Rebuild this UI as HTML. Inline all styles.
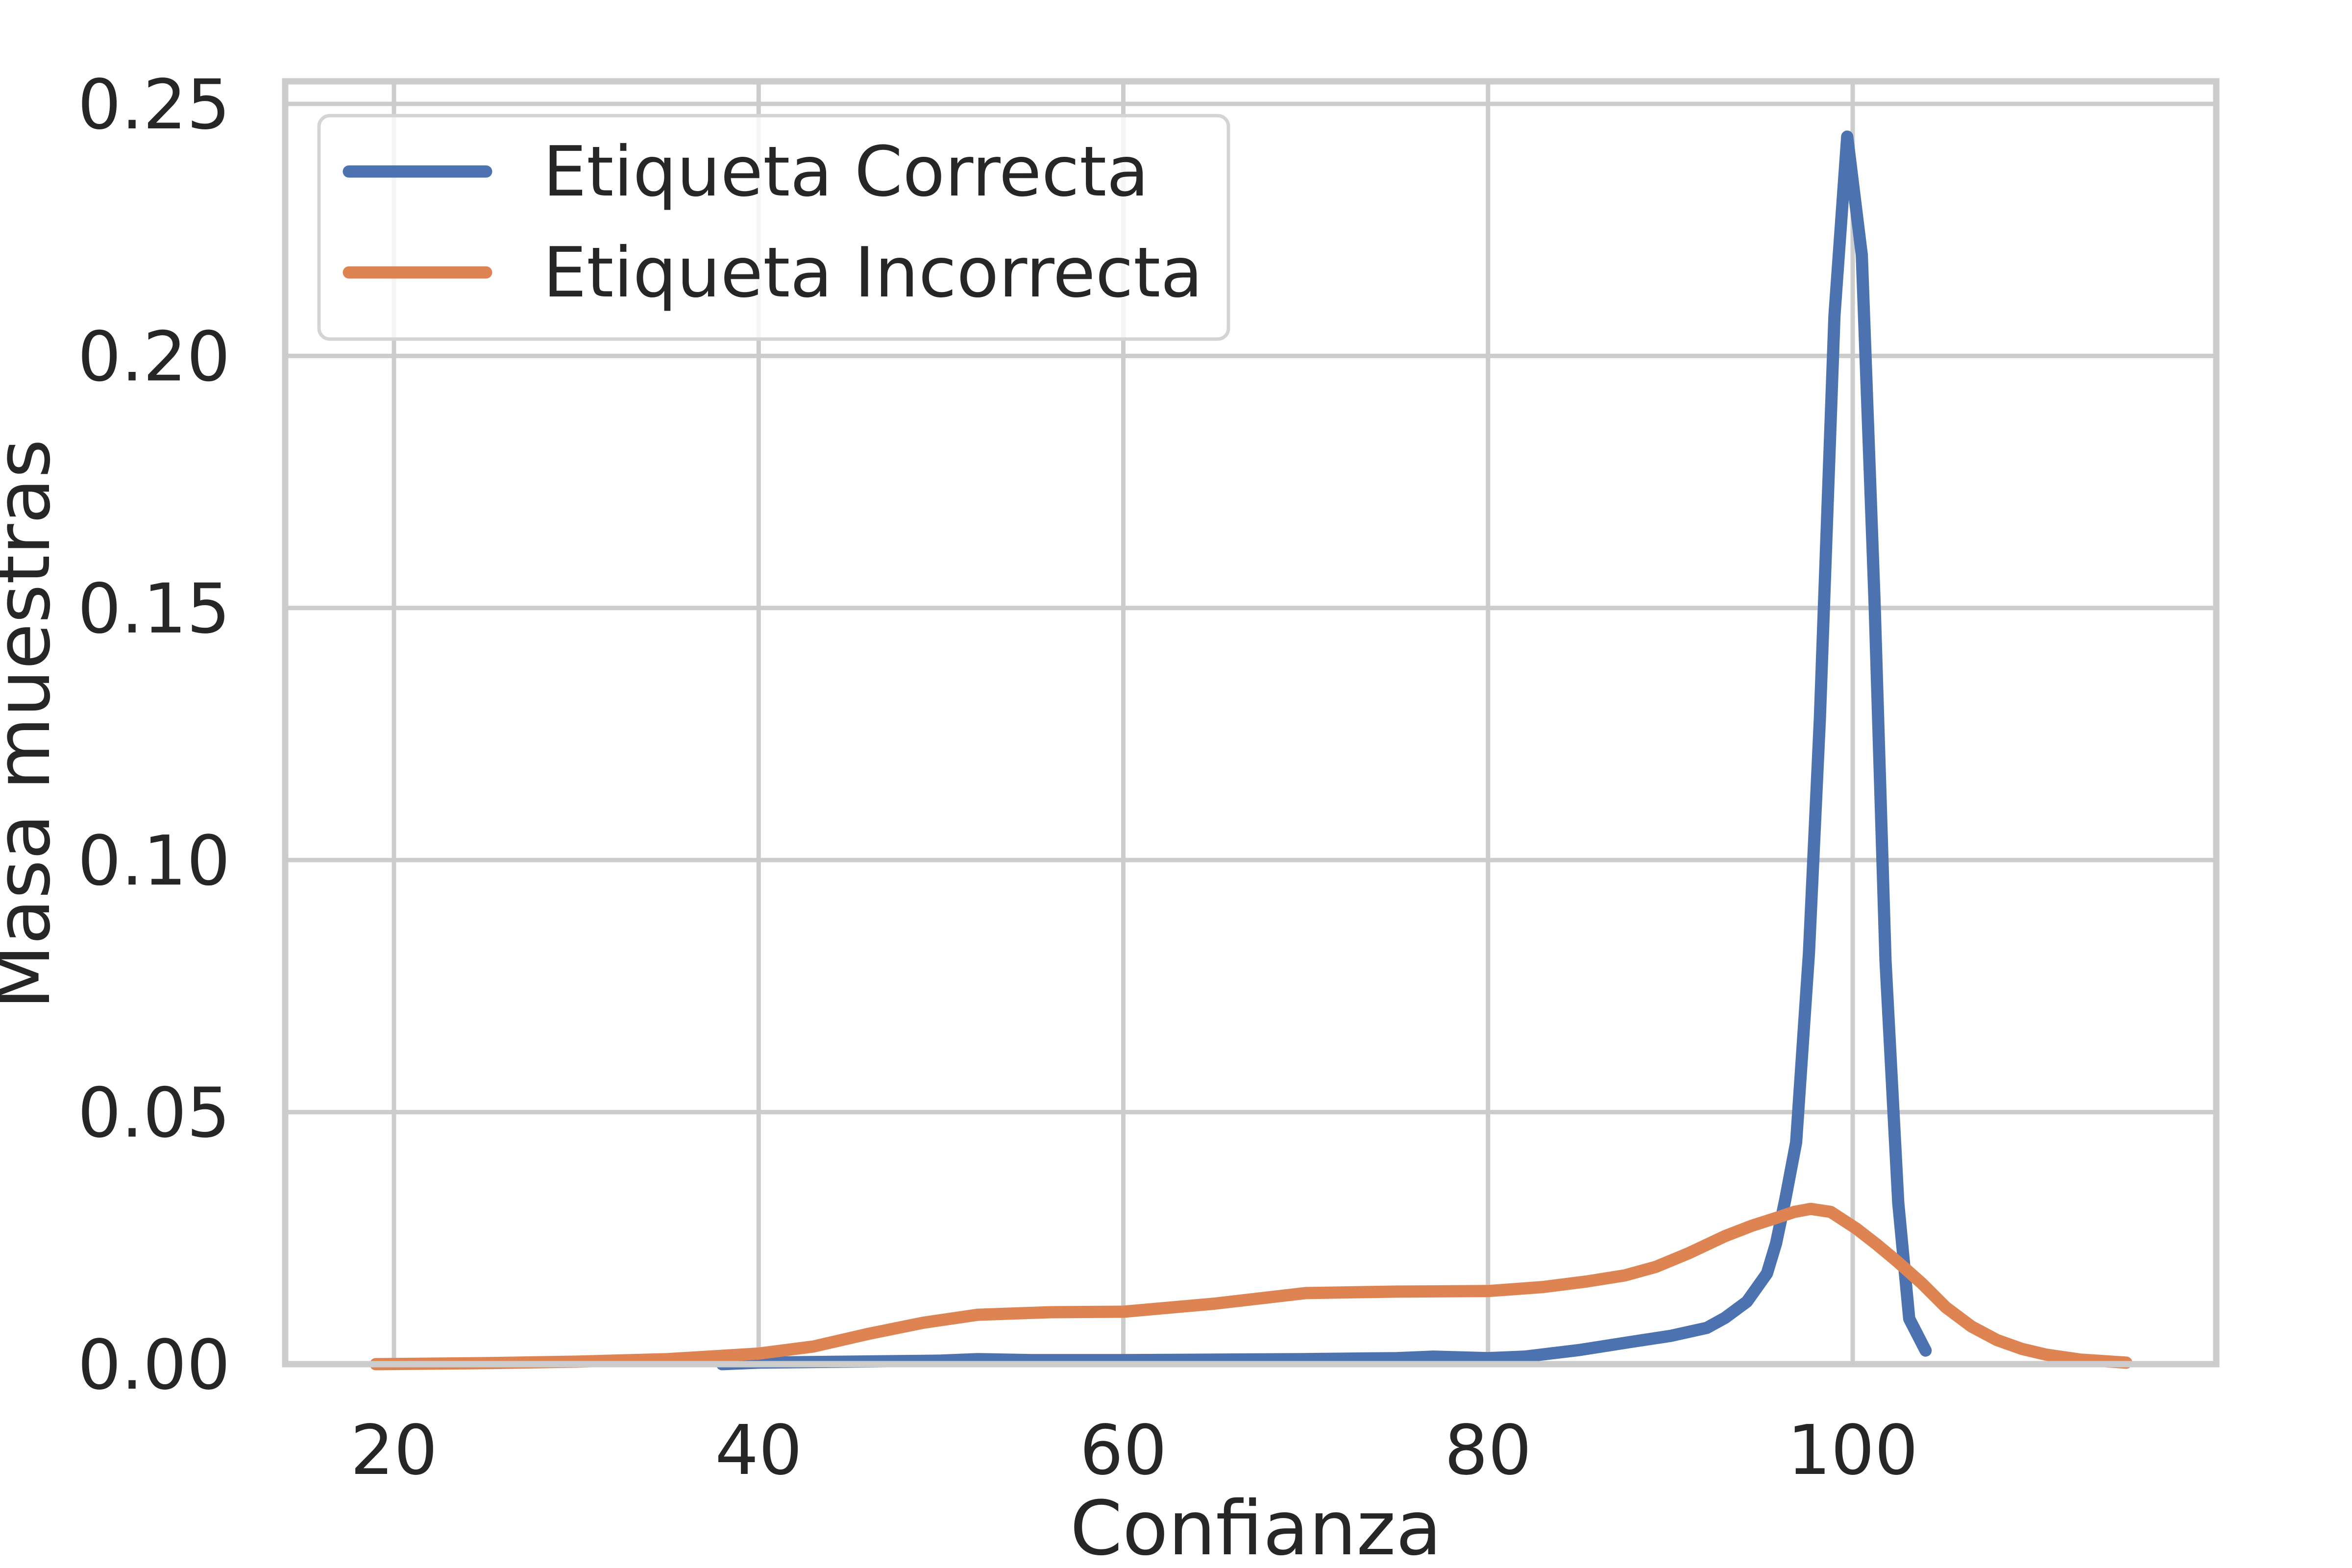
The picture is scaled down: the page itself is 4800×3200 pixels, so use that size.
<!DOCTYPE html>
<html><head><meta charset="utf-8"><style>
html,body{margin:0;padding:0;background:#fff;}
svg{display:block;font-family:"DejaVu Sans","Liberation Sans",sans-serif;}
</style></head><body>
<svg id="chart" width="4800" height="3200" viewBox="0 0 4800 3200">
<rect x="0" y="0" width="4800" height="3200" fill="#fff"/>
<g id="grid"></g>
<g id="series"></g>
<g id="spines"></g>
<g id="ticks"></g>
<text x="2563" y="3172" font-size="153" text-anchor="middle" fill="#262626">Confianza</text>
<text transform="translate(100,1478) rotate(-90)" font-size="153" text-anchor="middle" fill="#262626">Masa muestras</text>
<g>
<rect x="651" y="236" width="1856" height="456" rx="22" fill="#fff" fill-opacity="0.8" stroke="#d4d4d4" stroke-width="7"/>
<line x1="712" y1="350" x2="992" y2="350" stroke="#4c72b0" stroke-width="25" stroke-linecap="round"/>
<text x="1108" y="399" font-size="141" fill="#262626">Etiqueta Correcta</text>
<line x1="712" y1="556" x2="992" y2="556" stroke="#dd8452" stroke-width="25" stroke-linecap="round"/>
<text x="1108" y="605" font-size="141" fill="#262626">Etiqueta Incorrecta</text>
</g>
</svg>
<script>
const xTicks = [20, 40, 60, 80, 100];
const yTicks = [0.00, 0.05, 0.10, 0.15, 0.20, 0.25];
const yTickLabels = ["0.00", "0.05", "0.10", "0.15", "0.20", "0.25"];
const correctaX = [38, 40, 45, 50, 52, 55, 60, 65, 70, 75, 77, 80, 82, 85, 88, 90, 92, 93, 94.2, 95.3, 95.8, 96.3, 96.9, 97.6, 98.2, 99.0, 99.7, 100.5, 101.2, 101.8, 102.5, 103.1, 104];
const correctaY = [0.0, 0.0003, 0.0005, 0.0007, 0.001, 0.0008, 0.0008, 0.0009, 0.001, 0.0012, 0.0015, 0.0012, 0.0015, 0.0028, 0.0045, 0.0056, 0.0072, 0.0092, 0.0124, 0.018, 0.024, 0.0326, 0.044, 0.0815, 0.128, 0.208, 0.2435, 0.22, 0.151, 0.08, 0.032, 0.009, 0.0027];
const incorrectaX = [19, 25, 30, 35, 40, 43, 46, 49, 52, 56, 60, 65, 70, 75, 80, 83, 85.4, 87.5, 89.2, 91, 93, 94.5, 95.8, 96.8, 97.7, 98.8, 100.2, 101.3, 102.4, 103.8, 105.1, 106.5, 107.9, 109.3, 110.6, 112.5, 115];
const incorrectaY = [0.0, 0.0002, 0.0005, 0.001, 0.0021, 0.0035, 0.006, 0.0082, 0.0098, 0.0103, 0.0104, 0.012, 0.0141, 0.0144, 0.0145, 0.0153, 0.0164, 0.0176, 0.0193, 0.022, 0.0254, 0.0275, 0.029, 0.0302, 0.0308, 0.0302, 0.0269, 0.0238, 0.0205, 0.016, 0.0113, 0.0075, 0.0048, 0.003, 0.0019, 0.0009, 0.0003];

const NS = "http://www.w3.org/2000/svg";
const L = 582, R = 4523, T = 166, B = 2784;
function sx(v){ return 804 + (v - 20) * (3781 - 804) / 80; }
function sy(v){ return 2784 - v * (2784 - 212) / 0.25; }
function mk(tag, attrs, parent){ const e = document.createElementNS(NS, tag); for (const k in attrs) e.setAttribute(k, attrs[k]); parent.appendChild(e); return e; }

const grid = document.getElementById('grid');
const ticks = document.getElementById('ticks');
xTicks.forEach(v => {
  const g = mk('line', {x1: sx(v), x2: sx(v), y1: T, y2: B, stroke: '#cccccc', 'stroke-width': 9}, grid);
  
  
  const t = mk('text', {x: sx(v), y: 3008, 'font-size': 140, 'text-anchor': 'middle', fill: '#262626'}, ticks);
  t.textContent = String(v);
  
  
});
yTicks.forEach((v, i) => {
  const g = mk('line', {x1: L, x2: R, y1: sy(v), y2: sy(v), stroke: '#cccccc', 'stroke-width': 9}, grid);
  
  
  const t = mk('text', {x: 470, y: sy(v) + 50, 'font-size': 140, 'text-anchor': 'end', fill: '#262626'}, ticks);
  t.textContent = yTickLabels[i];
  
  
});

const series = document.getElementById('series');
function pathFor(xs, ys){ return xs.map((x, i) => (i ? 'L' : 'M') + sx(x).toFixed(1) + ',' + sy(ys[i]).toFixed(1)).join(' '); }
const pc = mk('path', {d: pathFor(correctaX, correctaY), fill: 'none', stroke: '#4c72b0', 'stroke-width': 25, 'stroke-linejoin': 'round', 'stroke-linecap': 'round'}, series);


const pi = mk('path', {d: pathFor(incorrectaX, incorrectaY), fill: 'none', stroke: '#dd8452', 'stroke-width': 25, 'stroke-linejoin': 'round', 'stroke-linecap': 'round'}, series);



const sp = document.getElementById('spines');
const frame = mk('rect', {x: L, y: T, width: R - L, height: B - T, fill: 'none', stroke: '#cccccc', 'stroke-width': 13}, sp);


</script>
</body></html>
